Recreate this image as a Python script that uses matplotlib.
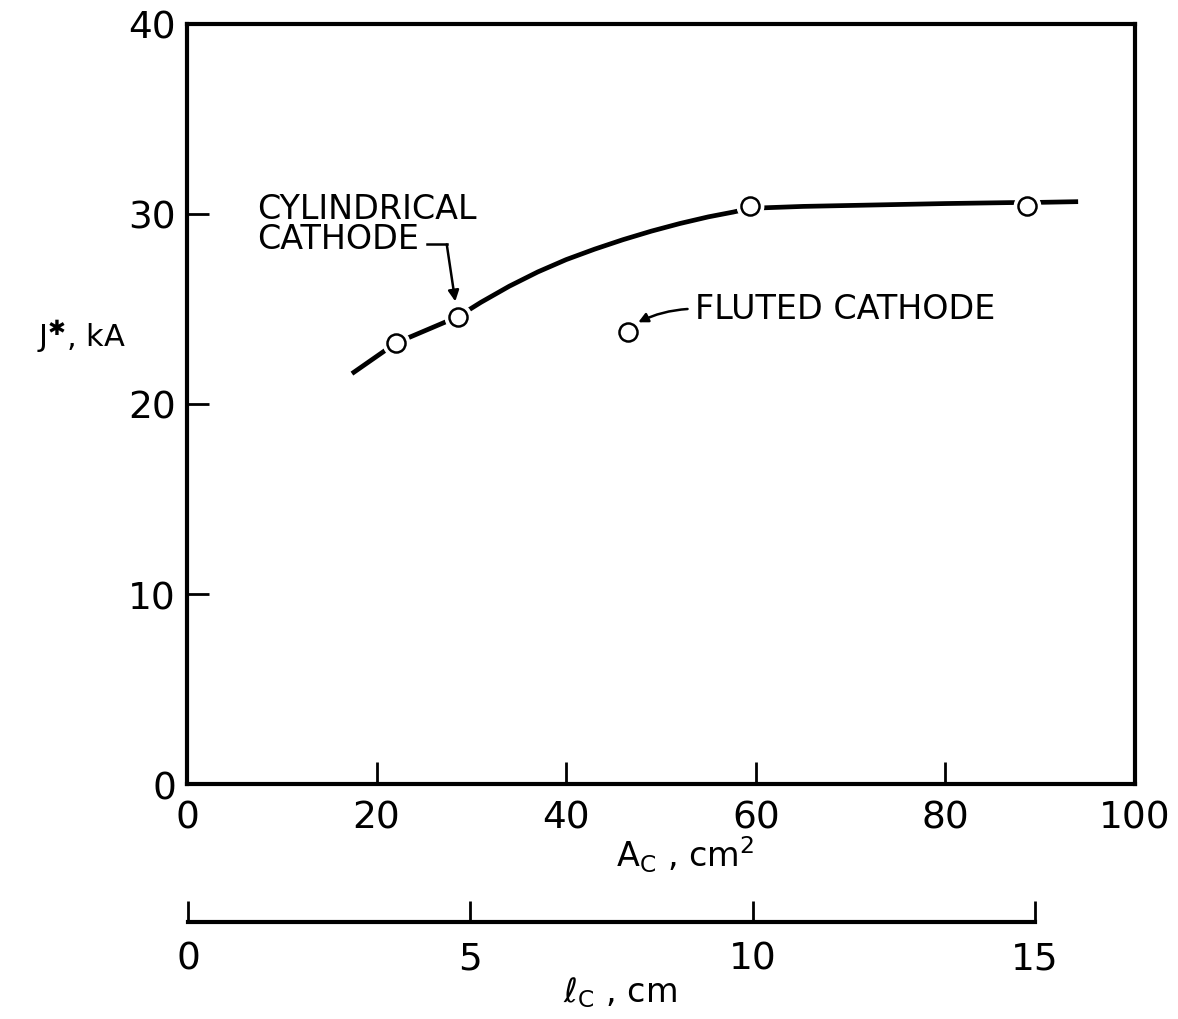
import matplotlib
matplotlib.use("Agg")
import matplotlib.pyplot as plt

# data
curve_x = [17.4, 22.0, 28.6, 31.0, 34.0, 37.0, 40.0, 43.0, 46.0, 49.0, 52.0, 55.0,
           57.6, 59.4, 65.0, 70.0, 75.0, 80.0, 86.8, 88.6, 94.0]
curve_y = [21.6, 23.2, 24.6, 25.35, 26.2, 26.95, 27.6, 28.15, 28.65, 29.1, 29.5, 29.85,
           30.1, 30.3, 30.4, 30.45, 30.5, 30.55, 30.6, 30.6, 30.65]
cyl_x = [22.0, 28.6, 59.4, 88.6]
cyl_y = [23.2, 24.6, 30.4, 30.4]
flut_x = [46.5]
flut_y = [23.8]

x_ticks = [0, 20, 40, 60, 80, 100]
y_ticks = [0, 10, 20, 30, 40]
lc_ticks = [0, 5, 10, 15]

W, H = 1178, 1020
plt.rcParams['font.family'] = ['DejaVu Sans']
plt.rcParams['mathtext.fontset'] = 'dejavusans'

fig = plt.figure(figsize=(W / 100, H / 100), dpi=100)
ax = fig.add_axes([187 / W, 1 - 785 / H, 948 / W, 760 / H])

ax.plot(curve_x, curve_y, color='black', lw=3.4, solid_capstyle='butt', zorder=2)
# white halo so the curve breaks around each circle
ax.plot(cyl_x + flut_x, cyl_y + flut_y, 'o', ms=19, mfc='white', mec='white', zorder=3)
ax.plot(cyl_x, cyl_y, 'o', ms=13, mfc='white', mec='black', mew=1.8, zorder=4)
ax.plot(flut_x, flut_y, 'o', ms=13, mfc='white', mec='black', mew=1.8, zorder=4)

ax.set_xlim(0, 100)
ax.set_ylim(0, 40)
ax.set_xticks(x_ticks)
ax.set_yticks(y_ticks)
ax.tick_params(direction='in', length=16, width=2, labelsize=27, colors='black')
ax.tick_params(axis='x', pad=11)
ax.tick_params(axis='y', pad=8)
for s in ax.spines.values():
    s.set_linewidth(3)

ax.set_ylabel("J$^{✱}$, kA", fontsize=22, rotation=0)
ax.yaxis.set_label_coords(-0.111, 0.566)
fig.text(685 / W, 1 - 855 / H, r"$\mathregular{A_C}$ , cm$^2$", fontsize=24,
         ha='center', va='center')

# annotations
ax.text(7.4, 29.5, "CYLINDRICAL\nCATHODE", fontsize=24, linespacing=0.85,
        ha='left', va='center')
ax.plot([25.3, 27.4], [28.4, 28.4], color='black', lw=1.8)
ax.annotate("", xy=(28.3, 25.4), xytext=(27.4, 28.4),
            arrowprops=dict(arrowstyle='-|>', color='black', lw=1.8,
                            mutation_scale=16, shrinkA=0, shrinkB=0))
ax.text(53.6, 25.0, "FLUTED CATHODE", fontsize=24, ha='left', va='center')
ax.annotate("", xy=(47.6, 24.3), xytext=(52.8, 25.0),
            arrowprops=dict(arrowstyle='-|>', color='black', lw=1.8,
                            mutation_scale=14, shrinkA=0, shrinkB=0,
                            connectionstyle='arc3,rad=0.1'))

# second scale: cathode length
ax2 = fig.add_axes([188 / W, 1 - 923 / H, 847 / W, 0.0001])
for side in ['top', 'left', 'right']:
    ax2.spines[side].set_visible(False)
ax2.spines['bottom'].set_linewidth(3)
ax2.set_xlim(0, 15)
ax2.set_xticks(lc_ticks)
ax2.set_yticks([])
ax2.tick_params(axis='x', direction='in', length=15, width=2, labelsize=27, pad=13)
fig.text(620 / W, 1 - 993 / H, r"ℓ$_\mathregular{C}$ , cm", fontsize=24,
         ha='center', va='center')

fig.savefig("out.png", dpi=100)
